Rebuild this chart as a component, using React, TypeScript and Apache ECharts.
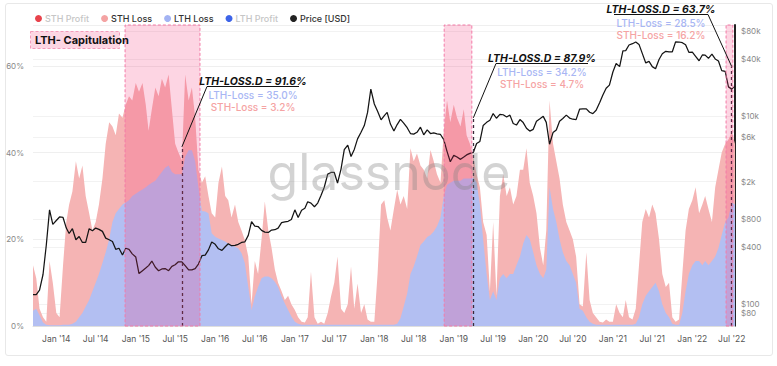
import React, { useEffect, useRef } from "react";
import * as echarts from "echarts";

// Semi-monthly samples (1st and 16th of every month) from 2013-09-16 to 2022-07-16, in %
const LTH_LOSS: number[] = [
  3.5, 4, 2.5, 0.8, 0.3, 0.2, 0.2,
  0.2, 0.2, 0.3, 0.3, 0.3, 0.5, 1, 2, 3, 4.5, 6, 8, 10, 12, 14.5, 17, 20, 24, 26, 27, 28, 28.5, 29, 30,
  30.5, 31, 31.5, 32, 32.5, 33, 33.5, 34.5, 35.5, 36.5, 37, 35.5, 35, 35, 35.0, 39, 40.5, 40.5, 38, 32, 26.5, 26.4, 26, 21.4,
  20.6, 20.2, 19.8, 19.5, 19, 18.7, 18.3, 17.9, 16.8, 14.5, 9, 3.7, 6.8, 9, 11, 11.4, 11.4, 11, 10.2, 9, 6.8, 5.2, 3.7, 2.2,
  1, 0.5, 0.3, 0.3, 0.3, 0.3, 0.3, 0.3, 0.3, 0.3, 0.3, 0.3, 0.3, 0.3, 0.3, 0.3, 0.3, 0.3, 0.3, 0.3, 0.3, 0.3, 0.3, 0.3,
  0.3, 0.3, 0.3, 0.3, 0.3, 0.3, 0.3, 0.5, 1.8, 4.5, 7.5, 12, 13.7, 16, 18.7, 19.5, 20.5, 21, 21.8, 23, 25, 30, 32.5, 33,
  33.5, 33.5, 33.5, 34, 34, 34, 34.2, 33, 28, 20, 12, 6, 8, 6, 11, 12, 11, 12, 12, 14, 16, 19, 21, 20,
  17, 14, 12, 11, 13, 32, 27, 24, 20, 17, 15, 14, 12, 10, 4, 3.5, 2, 1, 0.5, 0.3, 0.3, 0.3, 0.3, 0.3,
  0.3, 0.3, 0.3, 0.3, 0.3, 0.3, 0.3, 0.5, 2, 5, 7, 8, 9, 10, 8, 5, 3, 2, 0.5, 0.3, 0.3, 3, 8, 12,
  14, 15, 15, 14, 15, 14, 15, 16, 18, 21, 24, 25, 28.5, 28,
];

const STH_LOSS: number[] = [
  10.5, 7, 1.5, 1.2, 0.7, 14.8, 9.8,
  2.8, 1.8, 13.7, 23.7, 27.7, 30.5, 37, 32, 34, 25.5, 20, 14, 14, 16, 19.5, 25, 27, 22, 18, 22, 20, 22.5, 24, 22,
  25.5, 23, 24.5, 19, 12.5, 17, 21.5, 18.5, 21.5, 18.5, 21, 14.5, 7, 5, 3.2, 19, 11.5, 14.5, 10, 4, 6.5, 8.1, 4, 4.6,
  4.4, 12.8, 17, 10.5, 10, 6.3, 9.7, 6.1, 5.2, 5.3, 7, 1.3, 8.2, 3, 9, 17.3, 10.6, 7, 2.8, 1, 1.2, 0.8, 3.3, 2.8,
  2.7, 1.5, 0.7, 0.5, 1.7, 12.2, 1.7, 0.2, 0.7, 0.2, 2.7, 6.5, 9.7, 15.7, 3.7, 2.7, 4.7, 13.4, 3.7, 9.5, 2.7, 4.7, 1.2, 0.7,
  0.7, 11.7, 27.7, 28.7, 24.7, 21.7, 26.7, 30.9, 26.2, 25.5, 19.5, 29, 24.3, 23.8, 18.3, 16.5, 13.5, 19.6, 16.2, 12, 8, 15, 19.5, 14,
  17.5, 14.5, 12.5, 16, 10, 8, 4.7, 2, 4, 4, 9, 2, 16, 1, 19, 23, 19, 20, 16, 16, 20, 17, 20, 13,
  13, 12, 6, 3, 9, 20, 15, 14, 14, 11, 9, 8, 8, 6, 1, 1, 15, 5, 2.5, 1.7, 0.7, 0.5, 1.2, 0.7,
  0.7, 4.7, 2.7, 1.7, 5.7, 1.7, 1.2, 3.5, 12, 19, 20, 17, 19, 16, 12, 7, 6, 8, 1.5, 0.7, 1.2, 9, 14, 15,
  15, 17, 11, 14, 15, 13, 9, 16, 18, 19, 18, 18, 16.2, 14,
];

const PRICE: number[] = [
  125, 125, 140, 205, 420, 1000, 700,
  770, 840, 830, 640, 560, 630, 480, 520, 450, 450, 630, 600, 640, 620, 590, 500, 480, 460, 380, 390, 330, 390, 380, 340,
  315, 210, 225, 240, 255, 285, 245, 225, 235, 237, 225, 250, 260, 280, 280, 255, 230, 230, 237, 265, 325, 330, 375, 455,
  430, 385, 370, 405, 435, 415, 418, 430, 450, 455, 535, 750, 670, 665, 605, 580, 575, 610, 615, 640, 730, 745, 755, 790,
  1000, 830, 990, 1040, 1220, 1180, 1080, 1180, 1420, 1740, 2400, 2500, 2500, 1930, 2720, 4380, 4900, 3700, 4400, 5700, 6700, 7900, 10900, 19300,
  13400, 11200, 9100, 10100, 10900, 8200, 6900, 8100, 9200, 8400, 7500, 6500, 6400, 6700, 7600, 6300, 7100, 6500, 6600, 6450, 6350, 5600, 4200, 3250,
  3800, 3650, 3450, 3650, 3850, 4000, 4100, 5100, 5350, 7900, 8550, 9000, 10600, 9450, 10400, 10300, 9750, 10200, 8300, 8000, 9150, 8500, 7400, 6900,
  7200, 8800, 9350, 9900, 8550, 5000, 6650, 7100, 8800, 9400, 10200, 9500, 9230, 9130, 11800, 11900, 11900, 10950, 10600, 11500, 13800, 16700, 19700, 21300,
  29400, 36200, 33500, 49200, 49600, 56900, 58800, 61300, 57800, 46400, 36700, 38100, 33500, 31800, 39900, 45900, 48800, 48100, 48200, 61500, 61300, 60300, 57200, 47600,
  47700, 43100, 38700, 44600, 44400, 41100, 45500, 40500, 38500, 30400, 29800, 20400, 19300, 20800,
];

const X_TICKS: string[] = [
  "2014-01-01", "2014-07-01", "2015-01-01", "2015-07-01", "2016-01-01", "2016-07-01",
  "2017-01-01", "2017-07-01", "2018-01-01", "2018-07-01", "2019-01-01", "2019-07-01",
  "2020-01-01", "2020-07-01", "2021-01-01", "2021-07-01", "2022-01-01", "2022-07-01",
];
const MONTHS = ["Jan", "Feb", "Mar", "Apr", "May", "Jun", "Jul", "Aug", "Sep", "Oct", "Nov", "Dec"];

const PRICE_TICKS: number[] = [80, 100, 400, 800, 2000, 6000, 10000, 40000, 80000];
const PRICE_TICK_LABELS: string[] = ["$80", "$100", "$400", "$800", "$2k", "$6k", "$10k", "$40k", "$80k"];
const PRICE_MIN = 58;
const PRICE_MAX = 93000;

const SHADED: [string, string][] = [
  ["2014-11-13", "2015-10-23"],
  ["2018-11-18", "2019-03-25"],
  ["2022-06-05", "2022-07-06"],
];

const ANNOT_DATES = ["2015-08-01", "2019-04-01", "2022-07-01"];
const ANNOT_TOPS = [41.3, 48.0, 59.8];
const ANNOT_TITLES = ["LTH-LOSS.D = 91.6%", "LTH-LOSS.D = 87.9%", "LTH-LOSS.D = 63.7%"];
const ANNOT_LTH = ["LTH-Loss = 35.0%", "LTH-Loss = 34.2%", "LTH-Loss = 28.5%"];
const ANNOT_STH = ["STH-Loss = 3.2%", "STH-Loss = 4.7%", "STH-Loss = 16.2%"];
// layout of annotation labels (pixels)
const ANNOT_POS = [
  { cx: 253, cy: 81, half: 46, anchor: "left" },
  { cx: 542, cy: 58, half: 46, anchor: "left" },
  { cx: 661, cy: 9, half: 47, anchor: "right" },
];

function ts(s: string): number {
  const [y, m, d] = s.split("-").map(Number);
  return Date.UTC(y, m - 1, d);
}

const DATES: string[] = [];
{
  let y = 2013, m = 9, d = 16;
  for (let k = 0; k < LTH_LOSS.length; k++) {
    DATES.push(`${y}-${String(m).padStart(2, "0")}-${d === 1 ? "01" : "16"}`);
    if (d === 16) {
      d = 1;
      m++;
      if (m > 12) { m = 1; y++; }
    } else d = 16;
  }
}

const FONT = "Inter, 'Noto Sans', sans-serif";

export default function App() {
  const ref = useRef<HTMLDivElement>(null);
  useEffect(() => {
    if (!ref.current) return;
    const chart = echarts.init(ref.current, undefined, { renderer: "svg" });
    const T = DATES.map(ts);
    const priceTickLogs = PRICE_TICKS.map((v) => Math.log10(v));
    const xTickVals = X_TICKS.map(ts);
    // STH loss is drawn on top of LTH loss (stacked): its band reaches LTH + STH
    const sthTop = T.map((t, i) => [t, +(LTH_LOSS[i] + STH_LOSS[i]).toFixed(2)]);
    const option: any = {
      animation: false,
      textStyle: { fontFamily: FONT },
      grid: { left: 33, right: 42, top: 25, bottom: 40 },
      legend: {
        left: 30,
        top: 9,
        icon: "circle",
        itemWidth: 7,
        itemHeight: 7,
        itemGap: 12,
        selectedMode: false,
        textStyle: { fontSize: 9, color: "#333", fontWeight: 500, fontFamily: FONT, padding: [0, 0, 0, -2] },
        data: [
          { name: "STH Profit", textStyle: { color: "#c6c6c6" } },
          "STH Loss",
          "LTH Loss",
          { name: "LTH Profit", textStyle: { color: "#c6c6c6" } },
          "Price [USD]",
        ],
      },
      xAxis: {
        type: "value",
        min: T[0],
        max: T[T.length - 1],
        axisLine: { lineStyle: { color: "#dedede" } },
        axisTick: { show: false, customValues: xTickVals },
        splitLine: { show: false },
        axisLabel: {
          customValues: xTickVals,
          color: "#555",
          fontSize: 8.5,
          margin: 8,
          formatter: (v: number) => {
            const d = new Date(v);
            return `${MONTHS[d.getUTCMonth()]} '${String(d.getUTCFullYear()).slice(2)}`;
          },
        },
      },
      yAxis: [
        {
          type: "value",
          min: 0,
          max: 69.4,
          interval: 20,
          axisLine: { show: false },
          axisTick: { show: false },
          splitLine: { lineStyle: { color: "#efefef" } },
          axisLabel: { formatter: "{value}%", color: "#888", fontSize: 8, showMaxLabel: false, margin: 9 },
        },
        {
          type: "value",
          position: "right",
          min: Math.log10(PRICE_MIN),
          max: Math.log10(PRICE_MAX),
          axisLine: { show: true, lineStyle: { color: "#222", width: 2 } },
          axisTick: { show: false, customValues: priceTickLogs },
          splitLine: { show: true, lineStyle: { color: "#f2f2f2" } },
          axisLabel: {
            customValues: priceTickLogs,
            color: "#888",
            fontSize: 8,
            margin: 6,
            formatter: (v: number) => {
              const k = priceTickLogs.findIndex((p) => Math.abs(p - v) < 1e-6);
              return k >= 0 ? PRICE_TICK_LABELS[k] : "";
            },
          },
        },
      ],
      series: [
        { name: "STH Profit", type: "line", data: [], itemStyle: { color: "#e8434c" } },
        {
          name: "STH Loss",
          type: "line",
          showSymbol: false,
          symbol: "none",
          lineStyle: { width: 0 },
          itemStyle: { color: "#f4a3a3" },
          areaStyle: { color: "#f5b4b4", opacity: 1 },
          data: sthTop,
          z: 2,
        },
        {
          name: "LTH Loss",
          type: "line",
          showSymbol: false,
          symbol: "none",
          lineStyle: { width: 0 },
          itemStyle: { color: "#a3b3f3" },
          areaStyle: { color: "#b3bff2", opacity: 1 },
          data: T.map((t, i) => [t, LTH_LOSS[i]]),
          z: 2,
        },
        { name: "LTH Profit", type: "line", data: [], itemStyle: { color: "#3d64e8" } },
        {
          name: "Price [USD]",
          type: "line",
          yAxisIndex: 1,
          showSymbol: false,
          symbol: "none",
          itemStyle: { color: "#222" },
          lineStyle: { color: "#141414", width: 1.25 },
          data: T.map((t, i) => [t, Math.log10(PRICE[i])]),
          z: 3,
        },
        {
          name: "annot",
          type: "line",
          data: [],
          z: 4,
          markLine: {
            silent: true,
            symbol: ["none", "none"],
            label: { show: false },
            lineStyle: { type: [3, 3], color: "#3a2a3a", width: 1.3 },
            data: ANNOT_DATES.map((d, k) => [
              { coord: [ts(d), 0] },
              { coord: [ts(d), ANNOT_TOPS[k]] },
            ]),
          },
        },
        {
          name: "shade",
          type: "line",
          data: [],
          z: 10,
          markArea: {
            silent: true,
            z: 10,
            itemStyle: {
              color: "rgba(245,47,113,0.2)",
              borderColor: "#f37aa6",
              borderWidth: 1,
              borderType: [3, 2],
            },
            data: SHADED.map(([a, b]) => [
              { xAxis: ts(a), yAxis: 0 },
              { xAxis: ts(b), yAxis: 69.4 },
            ]),
          },
        },
      ],
    };
    chart.setOption(option);

    const graphic: any[] = [
      {
        type: "text",
        x: 389,
        y: 172,
        style: {
          text: "glassnode",
          fill: "rgba(130,130,130,0.35)",
          font: `400 50px ${FONT}`,
          textAlign: "center",
          textVerticalAlign: "middle",
        },
        z: 20,
        silent: true,
      },
      {
        type: "rect",
        shape: { x: 30.5, y: 31.5, width: 89, height: 17 },
        style: { fill: "#fdd6e3", stroke: "#f59bbb", lineWidth: 1, lineDash: [3, 2] },
        z: 20,
      },
      {
        type: "text",
        x: 35,
        y: 40,
        style: {
          text: "LTH- Capitulation",
          fill: "#111",
          font: `bold 11px ${FONT}`,
          textVerticalAlign: "middle",
        },
        z: 21,
      },
    ];
    ANNOT_DATES.forEach((d, k) => {
      const p = ANNOT_POS[k];
      const pt = chart.convertToPixel({ xAxisIndex: 0, yAxisIndex: 0 }, [ts(d), ANNOT_TOPS[k]]) as number[];
      const ux = p.anchor === "left" ? p.cx - p.half : p.cx + p.half;
      const uy = p.cy + 5.5;
      graphic.push(
        {
          type: "text",
          x: p.cx,
          y: p.cy,
          style: {
            text: ANNOT_TITLES[k],
            fill: "#111",
            font: `italic bold 10.5px ${FONT}`,
            textAlign: "center",
            textVerticalAlign: "middle",
          },
          z: 22,
        },
        {
          type: "line",
          shape: { x1: p.cx - p.half, y1: uy, x2: p.cx + p.half, y2: uy },
          style: { stroke: "#111", lineWidth: 1 },
          z: 22,
        },
        {
          type: "line",
          shape: { x1: ux, y1: uy, x2: pt[0], y2: pt[1] },
          style: { stroke: "#111", lineWidth: 1 },
          z: 22,
        },
        {
          type: "text",
          x: p.cx,
          y: p.cy + 14,
          style: {
            text: ANNOT_LTH[k],
            fill: "#a8b6f4",
            font: `500 10px ${FONT}`,
            textAlign: "center",
            textVerticalAlign: "middle",
          },
          z: 22,
        },
        {
          type: "text",
          x: p.cx,
          y: p.cy + 26,
          style: {
            text: ANNOT_STH[k],
            fill: "#f5a3a3",
            font: `500 10px ${FONT}`,
            textAlign: "center",
            textVerticalAlign: "middle",
          },
          z: 22,
        }
      );
    });
    chart.setOption({ graphic });

    return () => chart.dispose();
  }, []);

  return (
    <div style={{ position: "fixed", left: 0, top: 0, width: 777, height: 366, background: "#fff" }}>
      <div
        style={{
          position: "absolute",
          left: 5,
          top: 3,
          width: 766,
          height: 351,
          border: "1px solid #e8e8e8",
          borderRadius: 3,
        }}
      />
      <div ref={ref} style={{ position: "absolute", left: 0, top: 0, width: 777, height: 366 }} />
    </div>
  );
}
